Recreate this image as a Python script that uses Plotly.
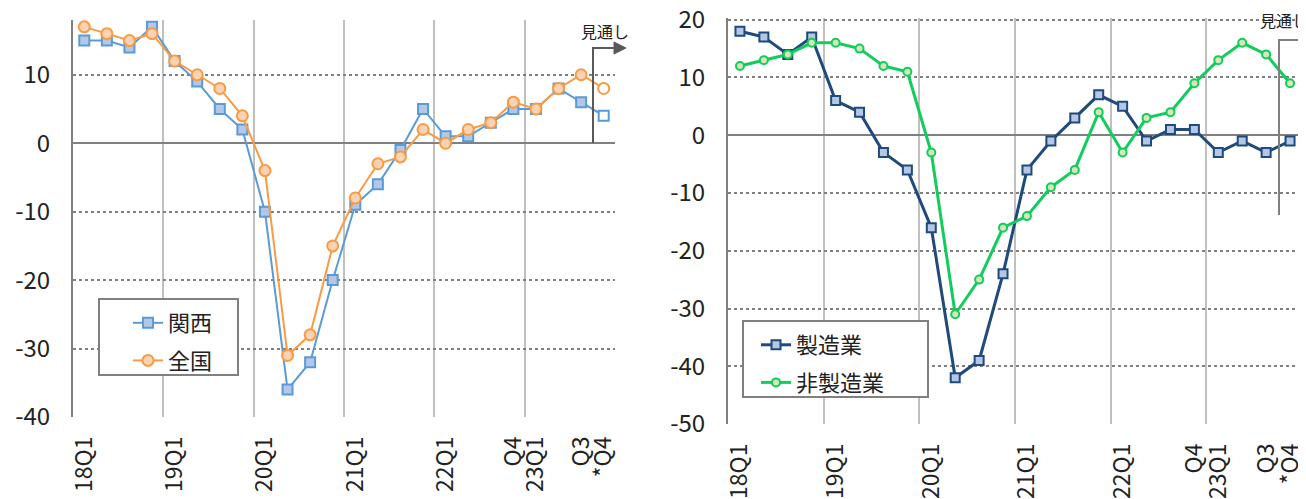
import plotly.graph_objects as go

quarters = ["18Q1", "18Q2", "18Q3", "18Q4", "19Q1", "19Q2", "19Q3", "19Q4",
            "20Q1", "20Q2", "20Q3", "20Q4", "21Q1", "21Q2", "21Q3", "21Q4",
            "22Q1", "22Q2", "22Q3", "22Q4", "23Q1", "23Q2", "23Q3", "23Q4"]
tick_cats = ["18Q1", "19Q1", "20Q1", "21Q1", "22Q1", "22Q4", "23Q1", "23Q3", "23Q4"]
tick_text = ["18Q1", "19Q1", "20Q1", "21Q1", "22Q1", "Q4", "23Q1", "Q3", "*Q4"]

kansai = [15, 15, 14, 17, 12, 9, 5, 2, -10, -36, -32, -20, -9, -6, -1, 5,
          1, 1, 3, 5, 5, 8, 6, 4]
zenkoku = [17, 16, 15, 16, 12, 10, 8, 4, -4, -31, -28, -15, -8, -3, -2, 2,
           0, 2, 3, 6, 5, 8, 10, 8]
seizo = [18, 17, 14, 17, 6, 4, -3, -6, -16, -42, -39, -24, -6, -1, 3, 7,
         5, -1, 1, 1, -3, -1, -3, -1]
hiseizo = [12, 13, 14, 16, 16, 15, 12, 11, -3, -31, -25, -16, -14, -9, -6, 4,
           -3, 3, 4, 9, 13, 16, 14, 9]

left_yticks = [-40, -30, -20, -10, 0, 10]
right_yticks = [-50, -40, -30, -20, -10, 0, 10, 20]

W, H = 1306, 499
OFF = 8  # page offset of the figure
FONT = "Noto Sans CJK JP, sans-serif"
x_idx = list(range(len(quarters)))
tickvals = [quarters.index(c) for c in tick_cats]


def px(x):
    return (x - OFF) / W


def py(y):
    return 1 - (y - OFF) / H


BLUE = "#5B9BD5"
BLUE_FILL = "#B4C7E7"
ORANGE = "#F99B45"
ORANGE_FILL = "#FBD3B3"
NAVY = "#1F4A7C"
GREEN = "#12CC5C"
GREEN_FILL = "#D3E8B5"

n = len(quarters)
fig = go.Figure()

fig.add_trace(go.Scatter(
    x=x_idx, y=kansai, name="関西", mode="lines+markers",
    line=dict(color=BLUE, width=2),
    marker=dict(symbol="square", size=10,
                color=[BLUE_FILL] * (n - 1) + ["white"],
                line=dict(color=BLUE, width=2)),
    xaxis="x", yaxis="y", legend="legend", legendgroup="a"))
fig.add_trace(go.Scatter(
    x=x_idx, y=zenkoku, name="全国", mode="lines+markers",
    line=dict(color=ORANGE, width=2),
    marker=dict(symbol="circle", size=11,
                color=[ORANGE_FILL] * (n - 1) + ["white"],
                line=dict(color=ORANGE, width=2)),
    xaxis="x", yaxis="y", legend="legend", legendgroup="b"))
fig.add_trace(go.Scatter(
    x=x_idx, y=seizo, name="製造業", mode="lines+markers",
    line=dict(color=NAVY, width=3),
    marker=dict(symbol="square", size=9, color=BLUE_FILL,
                line=dict(color=NAVY, width=2)),
    xaxis="x2", yaxis="y2", legend="legend2", legendgroup="c"))
fig.add_trace(go.Scatter(
    x=x_idx, y=hiseizo, name="非製造業", mode="lines+markers",
    line=dict(color=GREEN, width=3),
    marker=dict(symbol="circle", size=8, color=GREEN_FILL,
                line=dict(color=GREEN, width=2)),
    xaxis="x2", yaxis="y2", legend="legend2", legendgroup="d"))

xcommon = dict(
    range=[-0.5, n - 0.5], tickvals=tickvals, ticktext=tick_text,
    tickangle=-90, showgrid=False, zeroline=False, showline=False,
    ticks="", ticklabelstandoff=14, automargin=False,
    ticklabeloverflow="allow",
    tickfont=dict(family=FONT, size=23, color="#222"),
    minor=dict(dtick=4, tick0=-0.5, showgrid=True, gridcolor="#C0C0C0",
               gridwidth=2, ticks=""),
)
ycommon = dict(
    showgrid=True, gridcolor="#808080", griddash="dot",
    gridwidth=1.5, zeroline=True, zerolinecolor="#808080", zerolinewidth=2,
    showline=True, linecolor="#808080", linewidth=2, ticks="",
    ticklabelstandoff=16, automargin=False, ticklabeloverflow="allow",
    tickfont=dict(family=FONT, size=24, color="#222"),
)

fig.update_layout(
    width=W, height=H, margin=dict(l=0, r=0, t=0, b=0),
    paper_bgcolor="white", plot_bgcolor="white",
    font=dict(family=FONT, color="#222"),
    xaxis=dict(domain=[px(73), px(615)], anchor="y", **xcommon),
    yaxis=dict(domain=[py(417), py(20)], anchor="x", range=[-40, 18],
               tickvals=left_yticks, ticktext=[str(v) for v in left_yticks], **ycommon),
    xaxis2=dict(domain=[px(728), px(1302)], anchor="y2", **xcommon),
    yaxis2=dict(domain=[py(424), py(18)], anchor="x2", range=[-50, 20.3],
                tickvals=right_yticks, ticktext=[str(v) for v in right_yticks], **ycommon),
    legend=dict(x=px(128), y=py(302), xanchor="left", yanchor="top",
                bgcolor="rgba(0,0,0,0)", borderwidth=0, traceorder="grouped",
                tracegroupgap=6, font=dict(family=FONT, size=22, color="#222")),
    legend2=dict(x=px(756), y=py(324), xanchor="left", yanchor="top",
                 bgcolor="rgba(0,0,0,0)", borderwidth=0, traceorder="grouped",
                 tracegroupgap=6, font=dict(family=FONT, size=22, color="#222")),
)

shapes = [
    # legend boxes
    dict(type="rect", xref="paper", yref="paper", x0=px(99), x1=px(238),
         y0=py(375), y1=py(299), line=dict(color="#808080", width=2),
         fillcolor="white", layer="above"),
    dict(type="rect", xref="paper", yref="paper", x0=px(743), x1=px(928),
         y0=py(397), y1=py(321), line=dict(color="#808080", width=2),
         fillcolor="white", layer="above"),
    # forecast markers
    dict(type="path", xref="paper", yref="paper",
         path=f"M {px(593)},{py(143)} L {px(593)},{py(48)} L {px(616)},{py(48)}",
         line=dict(color="#595959", width=2), layer="above"),
    dict(type="path", xref="paper", yref="paper",
         path=f"M {px(614)},{py(42)} L {px(626)},{py(48)} L {px(614)},{py(54)} Z",
         line=dict(color="#595959", width=1), fillcolor="#595959", layer="above"),
    dict(type="path", xref="paper", yref="paper",
         path=f"M {px(1279)},{py(215)} L {px(1279)},{py(40)} L {px(1306)},{py(40)}",
         line=dict(color="#808080", width=2), layer="above"),
]
fig.update_layout(shapes=shapes)

fig.add_annotation(xref="paper", yref="paper", x=px(605), y=py(31),
                   text="見通し", showarrow=False, xanchor="center", yanchor="middle",
                   font=dict(family=FONT, size=16, color="#222"))
fig.add_annotation(xref="paper", yref="paper", x=px(1258), y=py(20),
                   text="見通し", showarrow=False, xanchor="left", yanchor="middle",
                   font=dict(family=FONT, size=16, color="#222"))

fig.write_html("out.html")
